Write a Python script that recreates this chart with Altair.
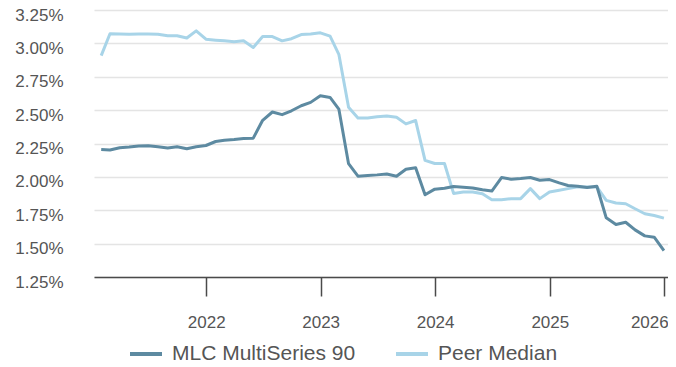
import altair as alt
import pandas as pd

dates = pd.date_range("2021-01-31", periods=60, freq="ME")

mlc = [2.205, 2.201, 2.218, 2.223, 2.231, 2.233, 2.225, 2.216, 2.225, 2.211,
       2.225, 2.235, 2.265, 2.275, 2.280, 2.287, 2.290, 2.424, 2.486, 2.466,
       2.495, 2.533, 2.558, 2.608, 2.595, 2.508, 2.099, 2.005, 2.010, 2.015,
       2.022, 2.005, 2.057, 2.068, 1.866, 1.908, 1.915, 1.928, 1.923, 1.917,
       1.903, 1.894, 1.995, 1.982, 1.987, 1.995, 1.975, 1.980, 1.955, 1.935,
       1.930, 1.920, 1.930, 1.693, 1.643, 1.660, 1.603, 1.558, 1.548, 1.447]

peer = [2.908, 3.072, 3.070, 3.068, 3.070, 3.070, 3.068, 3.057, 3.057, 3.040,
        3.094, 3.031, 3.024, 3.019, 3.012, 3.019, 2.969, 3.051, 3.051, 3.019,
        3.035, 3.066, 3.071, 3.079, 3.054, 2.918, 2.521, 2.441, 2.441, 2.451,
        2.456, 2.446, 2.397, 2.422, 2.124, 2.100, 2.100, 1.876, 1.887, 1.887,
        1.874, 1.829, 1.829, 1.837, 1.837, 1.912, 1.837, 1.887, 1.900, 1.912,
        1.925, 1.925, 1.925, 1.824, 1.804, 1.799, 1.761, 1.724, 1.711, 1.691]

series_names = ["MLC MultiSeries 90", "Peer Median"]
series_colors = ["#5d8aa1", "#a8d4e8"]
y_ticks = [1.25, 1.5, 1.75, 2.0, 2.25, 2.5, 2.75, 3.0, 3.25]
x_years = [2022, 2023, 2024, 2025, 2026]

df = pd.concat([
    pd.DataFrame({"date": dates, "value": peer, "series": series_names[1]}),
    pd.DataFrame({"date": dates, "value": mlc, "series": series_names[0]}),
])

font = "Liberation Sans"

chart = alt.Chart(df).mark_line(strokeWidth=3, strokeJoin="round").encode(
    x=alt.X("date:T",
            scale=alt.Scale(domain=[alt.DateTime(year=2021, month=1, date=8),
                                    alt.DateTime(year=2026, month=1, date=13)]),
            axis=alt.Axis(title=None, values=[alt.DateTime(year=y, month=1, date=1) for y in x_years],
                          format="%Y", grid=False, domainColor="#4a4a4a", domainWidth=1.5,
                          tickColor="#4a4a4a", tickWidth=1.5, tickSize=19, labelPadding=18,
                          labelFlush=10, labelFlushOffset=4,
                          labelFontSize=17, labelFont=font, labelColor="#555555")),
    y=alt.Y("value:Q",
            scale=alt.Scale(domain=[1.25, 3.25], nice=False, zero=False),
            axis=alt.Axis(title=None, values=y_ticks, labelExpr="format(datum.value, '.2f') + '%'",
                          domain=False, ticks=False, labelPadding=31, labelOffset=5,
                          gridColor="#e4e4e4", gridWidth=1.5,
                          labelFontSize=17, labelFont=font, labelColor="#555555")),
    color=alt.Color("series:N",
                    scale=alt.Scale(domain=series_names, range=series_colors),
                    legend=alt.Legend(title=None, orient="none", legendX=34, legendY=326,
                                      direction="horizontal", symbolType="stroke",
                                      symbolSize=1024, symbolStrokeWidth=4,
                                      labelFontSize=21, labelFont=font, labelColor="#555555",
                                      labelOffset=8, columnPadding=32, labelLimit=400,
                                      padding=0)),
).properties(
    width=574, height=267,
    autosize=alt.AutoSizeParams(type="none"),
    padding={"left": 86, "top": 2, "right": 0, "bottom": 85}
).configure_view(stroke=None)

chart.save("out.html", embed_options={"renderer": "svg", "actions": False})
